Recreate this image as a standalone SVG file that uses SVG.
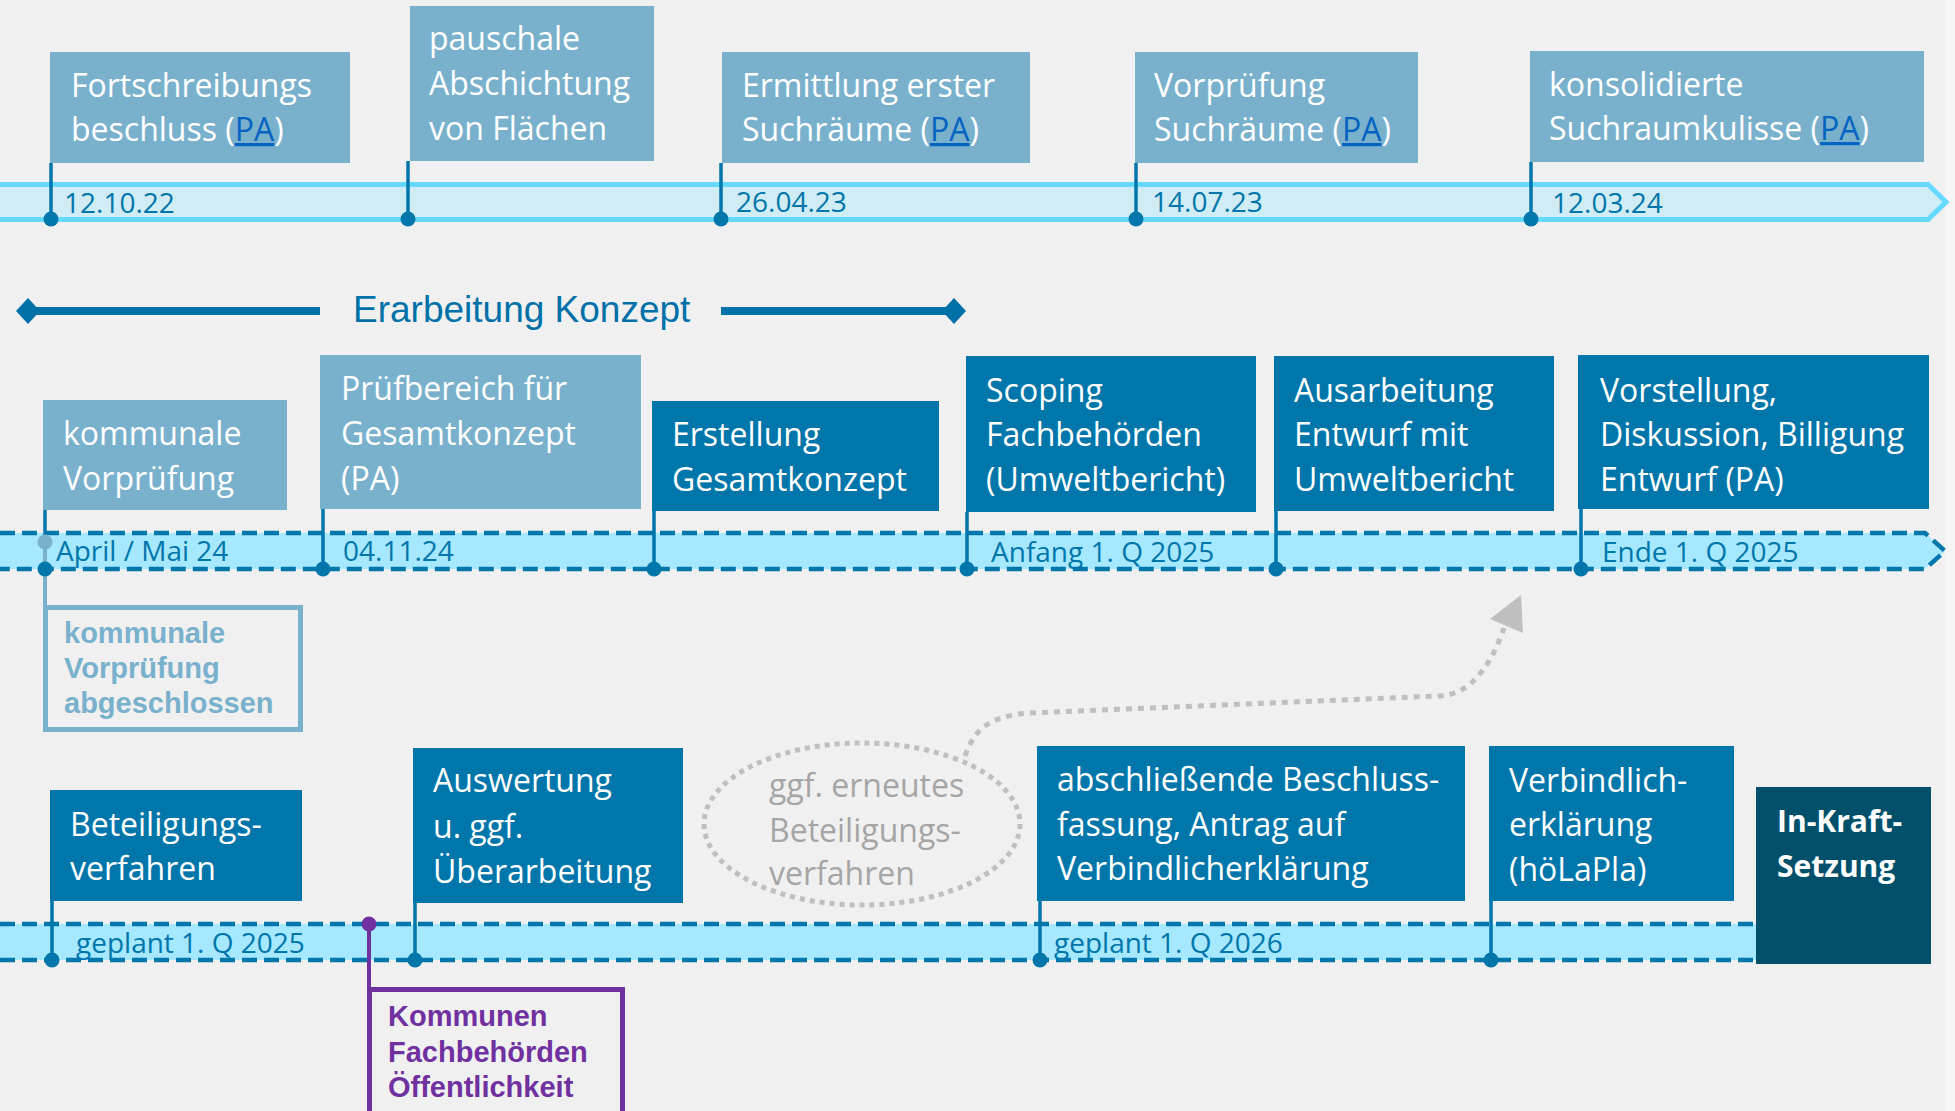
<svg xmlns="http://www.w3.org/2000/svg" width="1955" height="1111" viewBox="0 0 1955 1111">
<style>
.bg{fill:#f0f0f0}
.lb{fill:#79b1cd}
.db{fill:#0076aa}
.kb{fill:#00506b}
.t{font-family:"Open Sans","Liberation Sans",sans-serif;font-size:32px;fill:#ffffff}
.tb{font-family:"Open Sans","Liberation Sans",sans-serif;font-size:30px;font-weight:bold;fill:#ffffff}
.link{fill:#0563c1;text-decoration:underline}
.date{font-family:"Open Sans","Liberation Sans",sans-serif;font-size:28px;fill:#0076aa}
.gray{font-family:"Open Sans","Liberation Sans",sans-serif;font-size:32px;fill:#a5a5a5}
.note{font-family:"Liberation Sans",Arial,sans-serif;font-size:29px;font-weight:bold}
.ln{stroke:#0076aa;stroke-width:3.5;fill:none}
.dot{fill:#0076aa}
.dash{fill:none;stroke:#0076aa;stroke-width:4.5;stroke-dasharray:15 7}
</style>
<rect class="bg" x="0" y="0" width="1955" height="1111"/>
<rect x="1945" y="0" width="10" height="1111" fill="#f5f5f5"/>

<g id="timelines">
  <path d="M-10,184.5 H1928 L1946,202 L1928,219.5 H-10 Z" fill="#d0ecf5" stroke="#66d9ff" stroke-width="5"/>
  <path d="M0,533 H1925 L1945,551 L1925,569 H0 Z" fill="#a6e8ff"/>
  <path class="dash" d="M0,533 H1925 L1945,551 L1925,569 H0"/>
  <rect x="0" y="924" width="1760" height="36" fill="#a6e8ff"/>
  <path class="dash" d="M0,924 H1760 M0,960 H1760"/>
  <text class="date" x="64" y="213">12.10.22</text>
  <text class="date" x="736" y="212">26.04.23</text>
  <text class="date" x="1152" y="212">14.07.23</text>
  <text class="date" x="1552" y="213">12.03.24</text>
  <text class="date" x="56" y="561">April / Mai 24</text>
  <text class="date" x="343" y="561">04.11.24</text>
  <text class="date" x="991" y="562">Anfang 1. Q 2025</text>
  <text class="date" x="1602" y="562">Ende 1. Q 2025</text>
  <text class="date" x="76" y="953">geplant 1. Q 2025</text>
  <text class="date" x="1054" y="953">geplant 1. Q 2026</text>
</g>

<g id="phase">
  <path d="M28,311 H320 M721,311 H954" stroke="#0070a8" stroke-width="8" fill="none"/>
  <polygon points="16,311 28,298 40,311 28,324" fill="#0070a8"/>
  <polygon points="942,311 954,298 966,311 954,324" fill="#0070a8"/>
  <text x="353" y="322" font-family="'Liberation Sans',Arial,sans-serif" font-size="37" fill="#0070a8">Erarbeitung Konzept</text>
</g>

<g id="connectors">
  <path class="ln" d="M51,163 V219 M408,161 V219 M721,163 V219 M1136,163 V219 M1531,162 V219"/>
  <circle class="dot" cx="51" cy="219" r="7.5"/>
  <circle class="dot" cx="408" cy="219" r="7.5"/>
  <circle class="dot" cx="721" cy="219" r="7.5"/>
  <circle class="dot" cx="1136" cy="219" r="7.5"/>
  <circle class="dot" cx="1531" cy="219" r="7.5"/>

  <path class="ln" d="M45,510 V569 M323,509 V569 M654,511 V569 M967,512 V569 M1276,511 V569 M1581,509 V569"/>
  <path d="M45,542 V607" stroke="#79b1cd" stroke-width="4" fill="none"/>
  <circle cx="45" cy="542" r="7.5" fill="#79b1cd"/>
  <circle class="dot" cx="45" cy="569" r="7.5"/>
  <circle class="dot" cx="323" cy="569" r="7.5"/>
  <circle class="dot" cx="654" cy="569" r="7.5"/>
  <circle class="dot" cx="967" cy="569" r="7.5"/>
  <circle class="dot" cx="1276" cy="569" r="7.5"/>
  <circle class="dot" cx="1581" cy="569" r="7.5"/>

  <path class="ln" d="M52,901 V960 M415,903 V960 M1040,901 V960 M1491,901 V960"/>
  <circle class="dot" cx="52" cy="960" r="7.5"/>
  <circle class="dot" cx="415" cy="960" r="7.5"/>
  <circle class="dot" cx="1040" cy="960" r="7.5"/>
  <circle class="dot" cx="1491" cy="960" r="7.5"/>

  <path d="M369,924 V989" stroke="#7030a0" stroke-width="4" fill="none"/>
  <circle cx="369" cy="924" r="7.5" fill="#7030a0"/>

  <path d="M965,756 C975,728 990,716 1030,713 L1440,696 C1470,694 1490,668 1504,628" fill="none" stroke="#bfbfbf" stroke-width="5" stroke-dasharray="6 6"/>
  <polygon points="1521,595 1490,619 1523,633" fill="#bfbfbf"/>
</g>

<g id="n-fortschreibung">
  <rect class="lb" x="50" y="52" width="300" height="111"/>
  <text class="t" x="71" y="97">Fortschreibungs</text>
  <text class="t" x="71" y="141">beschluss (<tspan class="link">PA</tspan>)</text>
</g>
<g id="n-pauschale">
  <rect class="lb" x="410" y="6" width="244" height="155"/>
  <text class="t" x="429" y="50">pauschale</text>
  <text class="t" x="429" y="95">Abschichtung</text>
  <text class="t" x="429" y="140">von Flächen</text>
</g>
<g id="n-ermittlung">
  <rect class="lb" x="722" y="52" width="308" height="111"/>
  <text class="t" x="742" y="97">Ermittlung erster</text>
  <text class="t" x="742" y="141">Suchräume (<tspan class="link">PA</tspan>)</text>
</g>
<g id="n-vorpruefung">
  <rect class="lb" x="1135" y="52" width="283" height="111"/>
  <text class="t" x="1154" y="97">Vorprüfung</text>
  <text class="t" x="1154" y="141">Suchräume (<tspan class="link">PA</tspan>)</text>
</g>
<g id="n-konsolidiert">
  <rect class="lb" x="1530" y="51" width="394" height="111"/>
  <text class="t" x="1549" y="96">konsolidierte</text>
  <text class="t" x="1549" y="140">Suchraumkulisse (<tspan class="link">PA</tspan>)</text>
</g>

<g id="n-kommunale">
  <rect class="lb" x="43" y="400" width="244" height="110"/>
  <text class="t" x="63" y="445">kommunale</text>
  <text class="t" x="63" y="490">Vorprüfung</text>
</g>
<g id="n-kommunale-done">
  <rect x="45.5" y="607.5" width="255" height="122" fill="none" stroke="#79b1cd" stroke-width="5"/>
  <text class="note" x="64" y="643" fill="#79b1cd">kommunale</text>
  <text class="note" x="64" y="678" fill="#79b1cd">Vorprüfung</text>
  <text class="note" x="64" y="713" fill="#79b1cd">abgeschlossen</text>
</g>
<g id="n-pruefbereich">
  <rect class="lb" x="320" y="355" width="321" height="154"/>
  <text class="t" x="341" y="400">Prüfbereich für</text>
  <text class="t" x="341" y="445">Gesamtkonzept</text>
  <text class="t" x="341" y="490">(PA)</text>
</g>
<g id="n-erstellung">
  <rect class="db" x="652" y="401" width="287" height="110"/>
  <text class="t" x="672" y="446">Erstellung</text>
  <text class="t" x="672" y="491">Gesamtkonzept</text>
</g>
<g id="n-scoping">
  <rect class="db" x="966" y="356" width="290" height="156"/>
  <text class="t" x="986" y="402">Scoping</text>
  <text class="t" x="986" y="446">Fachbehörden</text>
  <text class="t" x="986" y="491">(Umweltbericht)</text>
</g>
<g id="n-ausarbeitung">
  <rect class="db" x="1274" y="356" width="280" height="155"/>
  <text class="t" x="1294" y="402">Ausarbeitung</text>
  <text class="t" x="1294" y="446">Entwurf mit</text>
  <text class="t" x="1294" y="491">Umweltbericht</text>
</g>
<g id="n-vorstellung">
  <rect class="db" x="1578" y="355" width="351" height="154"/>
  <text class="t" x="1600" y="402">Vorstellung,</text>
  <text class="t" x="1600" y="446">Diskussion, Billigung</text>
  <text class="t" x="1600" y="491">Entwurf (PA)</text>
</g>

<g id="n-beteiligung">
  <rect class="db" x="50" y="790" width="252" height="111"/>
  <text class="t" x="70" y="836">Beteiligungs-</text>
  <text class="t" x="70" y="880">verfahren</text>
</g>
<g id="n-beteiligte">
  <rect x="369.5" y="989.5" width="253" height="130" fill="none" stroke="#7030a0" stroke-width="5"/>
  <text class="note" x="388" y="1026" fill="#7030a0">Kommunen</text>
  <text class="note" x="388" y="1062" fill="#7030a0">Fachbehörden</text>
  <text class="note" x="388" y="1097" fill="#7030a0">Öffentlichkeit</text>
</g>
<g id="n-auswertung">
  <rect class="db" x="413" y="748" width="270" height="155"/>
  <text class="t" x="433" y="792">Auswertung</text>
  <text class="t" x="433" y="838">u. ggf.</text>
  <text class="t" x="433" y="883">Überarbeitung</text>
</g>
<g id="n-erneut">
  <ellipse cx="862" cy="824" rx="158" ry="81" fill="none" stroke="#bfbfbf" stroke-width="5" stroke-dasharray="5 5"/>
  <text class="gray" x="769" y="797">ggf. erneutes</text>
  <text class="gray" x="769" y="842">Beteiligungs-</text>
  <text class="gray" x="769" y="885">verfahren</text>
</g>
<g id="n-beschluss">
  <rect class="db" x="1037" y="746" width="428" height="155"/>
  <text class="t" x="1057" y="791">abschließende Beschluss-</text>
  <text class="t" x="1057" y="836">fassung, Antrag auf</text>
  <text class="t" x="1057" y="880">Verbindlicherklärung</text>
</g>
<g id="n-verbindlich">
  <rect class="db" x="1489" y="746" width="245" height="155"/>
  <text class="t" x="1509" y="792">Verbindlich-</text>
  <text class="t" x="1509" y="836">erklärung</text>
  <text class="t" x="1509" y="881">(höLaPla)</text>
</g>
<g id="n-inkraft">
  <rect class="kb" x="1756" y="787" width="175" height="177"/>
  <text class="tb" x="1777" y="832">In-Kraft-</text>
  <text class="tb" x="1777" y="877">Setzung</text>
</g>
</svg>
